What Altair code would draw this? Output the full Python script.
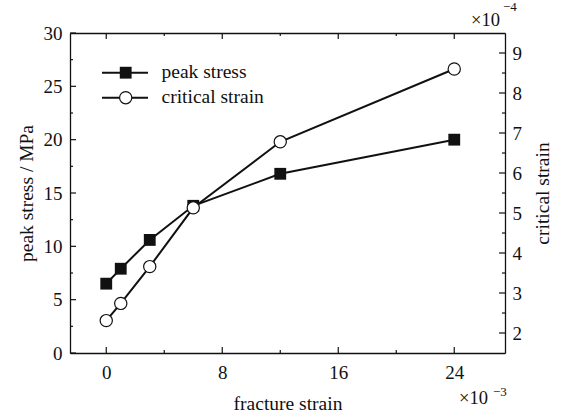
import altair as alt
import pandas as pd

# ---- data ----
fracture_strain = [0, 1, 3, 6, 12, 24]            # x 10^-3
peak_stress = [6.5, 7.9, 10.6, 13.8, 16.8, 20.0]  # MPa
critical_strain = [2.31, 2.74, 3.66, 5.13, 6.78, 8.6]  # x 10^-4

series_names = ["peak stress", "critical strain"]
x_title = "fracture strain"
y_left_title = "peak stress / MPa"
y_right_title = "critical strain"
x_major = [0, 8, 16, 24]
x_minor = [4, 12, 20]
y_left_major = [0, 5, 10, 15, 20, 25, 30]
y_left_minor = [2.5, 7.5, 12.5, 17.5, 22.5, 27.5]
y_right_major = [2, 3, 4, 5, 6, 7, 8, 9]
y_right_minor = [2.5, 3.5, 4.5, 5.5, 6.5, 7.5, 8.5]
x_exp = ["×10", "−3"]
y_exp = ["×10", "−4"]

FONT = "Liberation Serif"
INK = "#111111"
W, H = 435, 320
MAJ, MIN = 6, 3

df = pd.DataFrame({"x": fracture_strain, "stress": peak_stress, "strain": critical_strain})

x_scale = alt.Scale(domain=[-2.5, 27.5], nice=False, zero=False)
yl_scale = alt.Scale(domain=[0, 30], nice=False, zero=False)
yr_scale = alt.Scale(domain=[1.5, 9.5], nice=False, zero=False)

common_axis = dict(
    grid=False,
    ticks=False,
    domainColor=INK,
    domainWidth=1.3,
    labelFont=FONT,
    labelFontSize=19,
    labelColor=INK,
    titleFont=FONT,
    titleFontSize=19.5,
    titleFontWeight="normal",
    titleColor=INK,
)

stress = alt.Chart(df).mark_line(
    color=INK, strokeWidth=2,
    point=alt.OverlayMarkDef(shape="square", filled=True, color=INK, size=140, opacity=1),
).encode(
    x=alt.X("x:Q", scale=x_scale, axis=alt.Axis(
        orient="bottom", values=x_major, title=x_title, format="d",
        labelPadding=10, titlePadding=12, **common_axis)),
    y=alt.Y("stress:Q", scale=yl_scale, axis=alt.Axis(
        orient="left", values=y_left_major, title=y_left_title, format="d",
        labelPadding=8, titlePadding=7, **common_axis)),
)

strain = alt.Chart(df).mark_line(
    color=INK, strokeWidth=2,
    point=alt.OverlayMarkDef(shape="circle", filled=True, fill="white", stroke=INK,
                             strokeWidth=1.2, size=150, opacity=1),
).encode(
    x=alt.X("x:Q", scale=x_scale, axis=alt.Axis(
        orient="top", values=x_major, title=None, labels=False, **common_axis)),
    y=alt.Y("strain:Q", scale=yr_scale, axis=alt.Axis(
        orient="right", values=y_right_major, title=y_right_title, titleAngle=270,
        format="d", labelPadding=7, titlePadding=31, **common_axis)),
)

# ---- inward tick marks (drawn from the tick value lists) ----
def xticks(vals, length):
    d = pd.DataFrame({"v": vals})
    bottom = alt.Chart(d).mark_rule(color=INK, strokeWidth=1.2).encode(
        x=alt.X("v:Q", scale=x_scale, axis=None), y=alt.value(H), y2=alt.value(H - length))
    top = alt.Chart(d).mark_rule(color=INK, strokeWidth=1.2).encode(
        x=alt.X("v:Q", scale=x_scale, axis=None), y=alt.value(0), y2=alt.value(length))
    return [bottom, top]


def yticks(vals, scale, length, side):
    d = pd.DataFrame({"v": vals})
    x0 = 0 if side == "left" else W
    x1 = length if side == "left" else W - length
    return [alt.Chart(d).mark_rule(color=INK, strokeWidth=1.2).encode(
        y=alt.Y("v:Q", scale=scale, axis=None), x=alt.value(x0), x2=alt.value(x1))]

tick_layers = (xticks(x_major, MAJ) + xticks(x_minor, MIN)
               + yticks(y_left_major, yl_scale, MAJ, "left")
               + yticks(y_left_minor, yl_scale, MIN, "left")
               + yticks(y_right_major, yr_scale, MAJ, "right")
               + yticks(y_right_minor, yr_scale, MIN, "right"))

# ---- hand-built legend ----
legend_layers = []
legend_y = [39.7, 64.7]
for i, name in enumerate(series_names):
    ldf = pd.DataFrame({"name": [name]})
    base = alt.Chart(ldf)
    legend_layers.append(base.mark_rule(color=INK, strokeWidth=2).encode(
        x=alt.value(32), x2=alt.value(78), y=alt.value(legend_y[i])))
    if i == 0:
        pt = base.mark_point(shape="square", filled=True, color=INK, size=140, opacity=1)
    else:
        pt = base.mark_point(shape="circle", filled=True, fill="white", stroke=INK,
                             strokeWidth=1.2, size=150, opacity=1)
    legend_layers.append(pt.encode(x=alt.value(55.7), y=alt.value(legend_y[i])))
    legend_layers.append(base.mark_text(font=FONT, fontSize=19.5, color=INK, align="left",
                                        baseline="middle").encode(
        x=alt.value(91.5), y=alt.value(legend_y[i] - 1), text="name:N"))

# ---- exponent annotations ----
def exp_layers(parts, x_main, y_main, x_sup, y_sup):
    d1 = pd.DataFrame({"t": [parts[0]]})
    d2 = pd.DataFrame({"t": [parts[1]]})
    return [
        alt.Chart(d1).mark_text(font=FONT, fontSize=18.5, color=INK, align="left",
                                baseline="alphabetic").encode(
            x=alt.value(x_main), y=alt.value(y_main), text="t:N"),
        alt.Chart(d2).mark_text(font=FONT, fontSize=13, color=INK, align="left",
                                baseline="alphabetic").encode(
            x=alt.value(x_sup), y=alt.value(y_sup), text="t:N"),
    ]

ann = exp_layers(x_exp, 389, 371, 423, 363) + exp_layers(y_exp, 401, -7, 433, -22)

chart = alt.layer(stress, strain, *tick_layers, *legend_layers, *ann).resolve_scale(
    y="independent"
).resolve_axis(x="independent").properties(
    width=W, height=H,
    autosize=alt.AutoSizeParams(type="none"),
    padding={"left": 70, "top": 33, "right": 57, "bottom": 64},
    background="white",
).configure_view(stroke=None)

chart.save("out.html", embed_options={"renderer": "svg", "actions": False})
